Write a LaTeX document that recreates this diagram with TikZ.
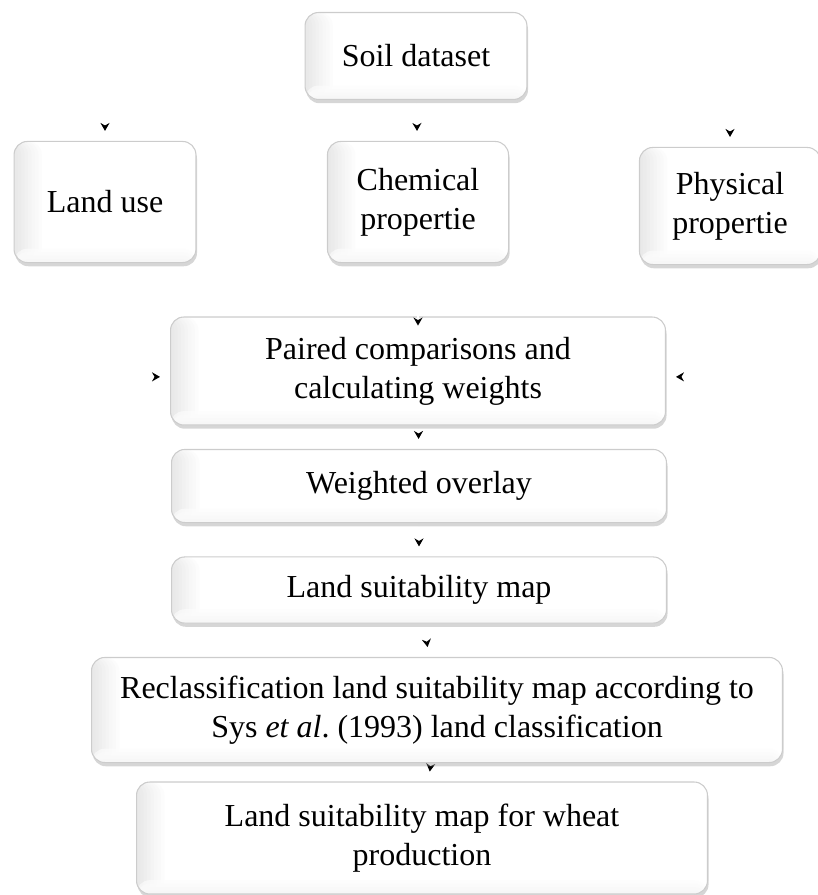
\documentclass[tikz,border=0pt]{standalone}
\usepackage{fontspec}
\setmainfont{Liberation Serif}
\usetikzlibrary{arrows.meta,shadows}

\pgfdeclarelayer{background}
\pgfsetlayers{background,main}

\tikzset{
  bevel/.style={path picture={
      % soft edge on the left and along the bottom
      \foreach \i [evaluate=\i as \g using 2.2*(\i+1)] in {0,...,7}
        \fill[gray!\g] (path picture bounding box.south west) rectangle
          ([xshift=(8-\i)*1.3pt]path picture bounding box.north west);
      \foreach \i [evaluate=\i as \g using 1.6*(\i+1)] in {0,...,3}
        \fill[gray!\g, fill opacity=0.6] (path picture bounding box.south west) rectangle
          ([yshift=(4-\i)*1.3pt]path picture bounding box.south east);
    }},
  stepbox/.style={draw=gray!40, line width=0.4pt, rounded corners=5pt,
    fill=white, bevel, align=center, inner sep=2pt,
    font=\fontsize{12}{14.6}\selectfont,
    drop shadow={shadow xshift=0.4pt, shadow yshift=-1.4pt,
      opacity=0.4, fill=gray!80}},
  flow/.style={draw=white, line width=0.4pt, shorten >=3.75pt,
    -{Stealth[length=3pt, width=3.4pt, black]}}
}

\begin{document}
\begin{tikzpicture}[x=0.375pt, y=-0.375pt, every node/.style={stepbox}]
  \useasboundingbox (0,0) rectangle (818,895);

  \node[minimum width=83.2pt, minimum height=32.6pt] (soil) at (416,56) {Soil dataset};
  \node[minimum width=68.2pt, minimum height=45.4pt] (landuse) at (105,202) {Land use};
  \node[minimum width=67.9pt, minimum height=45.4pt] (chem) at (418,202) {Chemical\\propertie};
  \node[minimum width=67.9pt, minimum height=43.9pt] (phys) at (730,206) {Physical\\propertie};
  \node[minimum width=185.6pt, minimum height=40.5pt] (paired) at (418,371) {Paired comparisons and\\calculating weights};
  \node[minimum width=185.6pt, minimum height=27.4pt] (weighted) at (419,486) {Weighted overlay};
  \node[minimum width=185.6pt, minimum height=24.8pt] (lsm) at (419,590) {Land suitability map};
  \node[minimum width=259.1pt, minimum height=39.4pt] (reclass) at (437,710) {Reclassification land suitability map according to\\Sys \textit{et al}.\ (1993) land classification};
  \node[minimum width=214.1pt, minimum height=42pt] (wheat) at (422,838) {Land suitability map for wheat\\production};

  % only the heads show, the lines stay behind the boxes
  \begin{pgfonlayer}{background}
    \draw[flow] (soil) -| (landuse);
    \draw[flow] (soil) -- (chem);
    \draw[flow] (soil) -| (phys);
    \draw[flow] ([yshift=-2.2pt]landuse.south) |- ([yshift=-2.2pt]paired.west);
    \draw[flow] ([yshift=-2.2pt]phys.south) |- ([yshift=-2.2pt]paired.east);
    \foreach \from/\to in {paired/weighted,weighted/lsm,lsm/reclass,reclass/wheat}
      \draw[flow] (\from) -- (\to);
  \end{pgfonlayer}
  \draw[flow, shorten <=20pt, shorten >=-3.4pt] (chem) -- (paired);

\end{tikzpicture}
\end{document}
